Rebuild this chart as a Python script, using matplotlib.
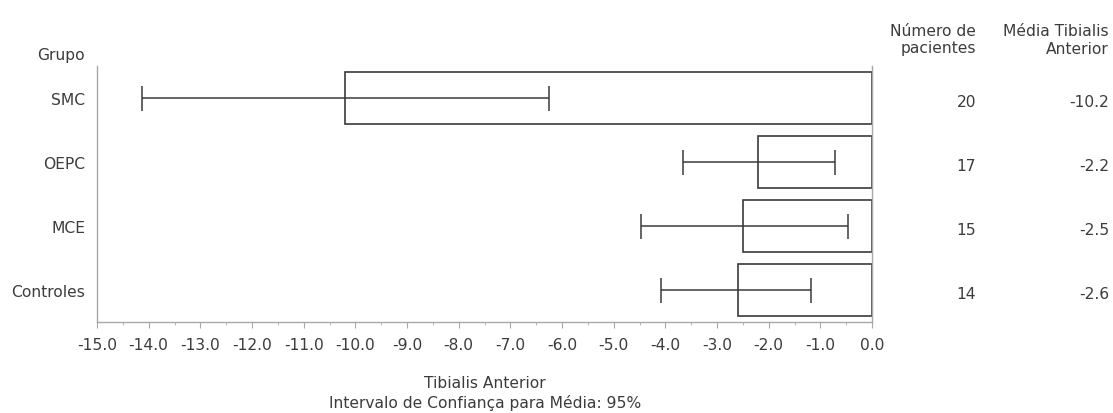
import matplotlib
matplotlib.use("Agg")
import matplotlib.pyplot as plt
import matplotlib.transforms as mtransforms
from matplotlib.ticker import MultipleLocator, FormatStrFormatter

groups = ["SMC", "OEPC", "MCE", "Controles"]
means = [-10.2, -2.2, -2.5, -2.6]
ci_low = [-14.13, -3.66, -4.47, -4.08]
ci_high = [-6.25, -0.72, -0.46, -1.18]
n_patients = [20, 17, 15, 14]
mean_labels = ["-10.2", "-2.2", "-2.5", "-2.6"]

plt.rcParams['font.family'] = ['DejaVu Sans']

W, H = 1113, 414
fig = plt.figure(figsize=(W / 100, H / 100), dpi=100)
ax = fig.add_axes([97 / W, 1 - 323 / H, (872 - 97) / W, (323 - 67) / H])

text_color = "#3c3c3c"
line_color = "#3a3a3a"
spine_color = "#a8a8a8"
fs = 11.2

y = list(range(len(groups)))
ax.barh(y, means, height=0.8, color="white", edgecolor=line_color, linewidth=1.2, zorder=2)
xerr = [[m - lo for m, lo in zip(means, ci_low)], [hi - m for m, hi in zip(means, ci_high)]]
ax.errorbar(means, y, xerr=xerr, fmt="none", ecolor=line_color, elinewidth=1.1,
            capsize=9, capthick=1.1, zorder=3)

ax.set_ylim(len(groups) - 0.5, -0.5)
ax.set_xlim(-15, 0)
ax.set_yticks(y)
ax.set_yticklabels(groups, fontsize=fs, color=text_color)
ax.tick_params(axis="y", length=0, pad=8.5)
ax.xaxis.set_major_locator(MultipleLocator(1))
ax.xaxis.set_minor_locator(MultipleLocator(0.5))
ax.xaxis.set_major_formatter(FormatStrFormatter("%.1f"))
ax.tick_params(axis="x", which="major", length=4, color=spine_color, labelsize=fs,
               labelcolor=text_color, pad=7)
ax.tick_params(axis="x", which="minor", length=2, color=spine_color)

ax.spines["top"].set_visible(False)
for s in ["left", "bottom", "right"]:
    ax.spines[s].set_color(spine_color)
    ax.spines[s].set_linewidth(1.0)

fig.text(485 / W, 1 - 384 / H, "Tibialis Anterior", ha="center", va="center",
         fontsize=fs, color=text_color)
fig.text(485 / W, 1 - 403 / H, "Intervalo de Confiança para Média: 95%", ha="center",
         va="center", fontsize=fs, color=text_color)
fig.text(85 / W, 1 - 56 / H, "Grupo", ha="right", va="center", fontsize=fs, color=text_color)

fig.text(976 / W, 1 - 32 / H, "Número de", ha="right", va="center", fontsize=fs, color=text_color)
fig.text(976 / W, 1 - 49 / H, "pacientes", ha="right", va="center", fontsize=fs, color=text_color)
fig.text(1109 / W, 1 - 32 / H, "Média Tibialis", ha="right", va="center", fontsize=fs, color=text_color)
fig.text(1109 / W, 1 - 49 / H, "Anterior", ha="right", va="center", fontsize=fs, color=text_color)

trans = mtransforms.blended_transform_factory(fig.transFigure, ax.transData)
for yi, n, ml in zip(y, n_patients, mean_labels):
    fig.text(976 / W, yi + 0.05, str(n), ha="right", va="center", fontsize=fs,
             color=text_color, transform=trans)
    fig.text(1109 / W, yi + 0.05, ml, ha="right", va="center", fontsize=fs,
             color=text_color, transform=trans)

fig.savefig("out.png", dpi=100)
